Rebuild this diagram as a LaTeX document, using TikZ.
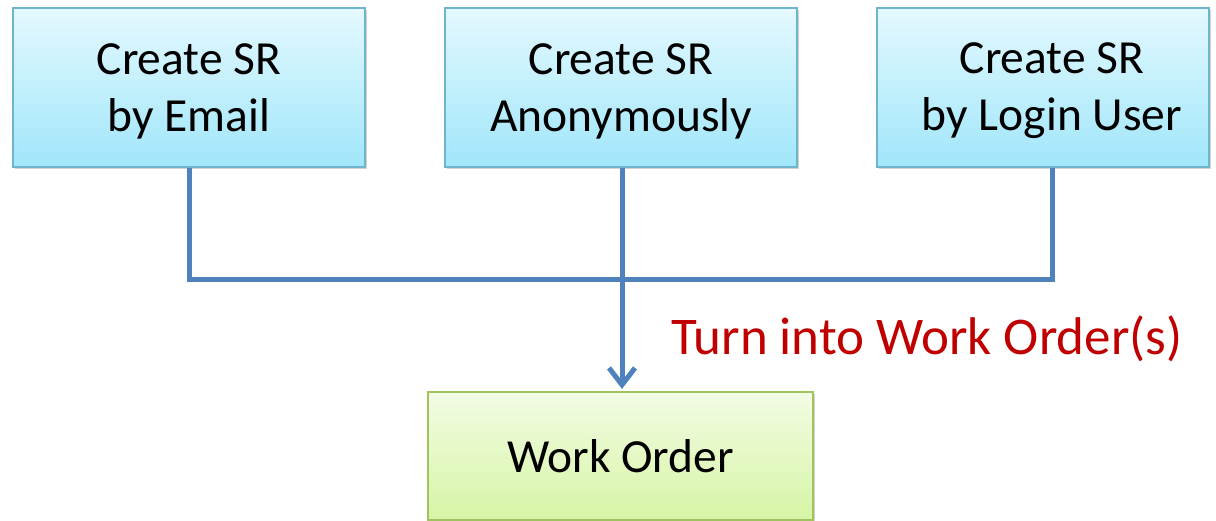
\documentclass[tikz,border=0pt]{standalone}
\usepackage{fontspec}
\setmainfont{Carlito}
\usetikzlibrary{shadows,arrows.meta}
\definecolor{bluetop}{RGB}{228,249,255}
\definecolor{bluebot}{RGB}{160,230,250}
\definecolor{blueedge}{RGB}{110,180,205}
\definecolor{greentop}{RGB}{243,252,228}
\definecolor{greenbot}{RGB}{214,245,165}
\definecolor{greenedge}{RGB}{160,195,95}
\definecolor{linkblue}{RGB}{79,129,189}
\definecolor{redtext}{RGB}{192,0,0}
\tikzset{
  srbox/.style={draw=blueedge, line width=1.2pt, top color=bluetop, bottom color=bluebot,
    minimum height=159pt, inner sep=0pt,
    drop shadow={shadow xshift=2pt, shadow yshift=-2pt, opacity=0.35}},
  boxtext/.style={align=center, inner sep=0pt, font=\fontsize{47.5}{57}\selectfont},
  wobox/.style={draw=greenedge, line width=1.2pt, top color=greentop, bottom color=greenbot,
    minimum height=128pt, minimum width=385pt, inner sep=0pt,
    font=\fontsize{47.5}{57}\selectfont,
    drop shadow={shadow xshift=2pt, shadow yshift=-2pt, opacity=0.35}},
  link/.style={draw=linkblue, line width=5pt},
}
\begin{document}
\begin{tikzpicture}[x=1pt,y=-1pt]
\useasboundingbox (0,0) rectangle (1216,520);
\node[srbox, minimum width=352pt] (email) at (189,87.5) {};
\node[srbox, minimum width=352pt] (anon) at (621,87.5) {};
\node[srbox, minimum width=332pt] (login) at (1043,87.5) {};
\node[boxtext] (temail) at (189,91) {Create SR\\by Email};
\node[boxtext] (tanon) at (621,91) {Create SR\\Anonymously};
\node[boxtext] (tlogin) at (1052,91) {Create SR\\by Login User};
\node[wobox] (wo) at (620.5,456) {Work Order};
\coordinate (jl) at (189,279);
\coordinate (jr) at (1052,279);
\draw[link] (email.south) -- (jl) -- (jr) -- (jr |- login.south);
\draw[link, -{Straight Barb[length=17pt,width=26pt,line width=5pt]}] (anon.south -| 622,0) -- (622,389);
\node[text=redtext, font=\fontsize{53}{64}\selectfont, anchor=base west, inner sep=0pt] (lbl) at (671,354) {Turn into Work Order(s)};
\end{tikzpicture}
\end{document}
